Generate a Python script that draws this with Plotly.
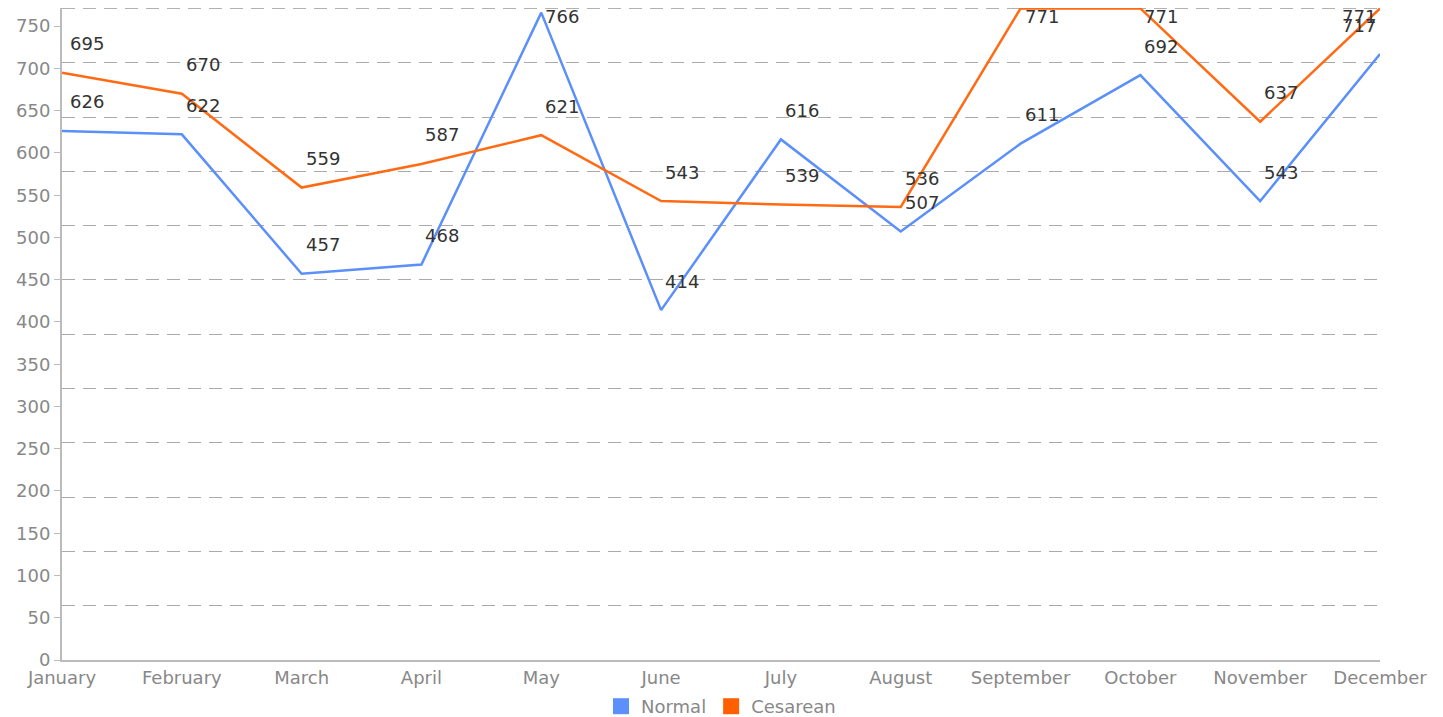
import plotly.graph_objects as go

months = ["January", "February", "March", "April", "May", "June", "July",
          "August", "September", "October", "November", "December"]
normal = [626, 622, 457, 468, 766, 414, 616, 507, 611, 692, 543, 717]
cesarean = [695, 670, 559, 587, 621, 543, 539, 536, 771, 771, 637, 771]

series_names = ["Normal", "Cesarean"]
series_colors = ["#5B8FF9", "#FF6A13"]
legend_colors = ["#5B8FF9", "#FF5F00"]

FONT = "DejaVu Sans"
FS = 18
ymax = max(max(normal), max(cesarean))
xs = list(range(len(months)))

fig = go.Figure()
for name, vals, col in zip(series_names, [normal, cesarean], series_colors):
    fig.add_trace(go.Scatter(x=xs, y=vals, mode="lines", name=name,
                             line=dict(color=col, width=2.5), showlegend=False,
                             hoverinfo="x+y"))
for name, col in zip(series_names, legend_colors):
    fig.add_trace(go.Scatter(x=[None], y=[None], mode="markers", name=name,
                             marker=dict(symbol="square", size=18, color=col)))

annotations = []
top_cap = ymax - 44
for vals in [normal, cesarean]:
    for i, v in enumerate(vals):
        last = i == len(vals) - 1
        annotations.append(dict(
            x=i, y=min(v, top_cap), text=str(v), showarrow=False,
            xref="x", yref="y",
            xanchor="right" if last else "left",
            xshift=-2 if last else (6 if i == 0 else 2),
            yshift=29, yanchor="middle",
            font=dict(family=FONT, size=FS, color="#333333")))

grid_dash = "13px,8px"
fig.add_shape(type="line", xref="paper", yref="y", x0=0, x1=1, y0=ymax, y1=ymax,
              line=dict(color="#AAAAAA", width=1, dash=grid_dash), layer="below")

fig.update_layout(
    width=1443, height=717,
    margin=dict(l=54, r=71, t=0, b=63),
    paper_bgcolor="white", plot_bgcolor="white",
    font=dict(family=FONT, size=FS, color="#888888"),
    annotations=annotations,
    legend=dict(orientation="h", x=0.5, xanchor="center", y=-0.072,
                yanchor="middle", font=dict(family=FONT, size=FS, color="#888888"),
                itemwidth=30),
    xaxis=dict(range=[0, len(months) - 1], tickmode="array", tickvals=xs,
               ticktext=months, showgrid=False, zeroline=False, automargin=False,
               showline=True, linecolor="#BBBBBB", linewidth=2, ticks=""),
    yaxis=dict(range=[0, ymax + 0.5], dtick=50, tick0=0, showgrid=False,
               zeroline=False, showline=True, linecolor="#BBBBBB", linewidth=2,
               automargin=False,
               ticks="outside", ticklen=6, tickcolor="#BBBBBB",
               minor=dict(tickmode="array",
                          tickvals=[k * ymax / 12 for k in range(1, 12)],
                          showgrid=True, gridcolor="#AAAAAA", gridwidth=1,
                          griddash=grid_dash, ticks="")),
)

fig.write_html("out.html")
